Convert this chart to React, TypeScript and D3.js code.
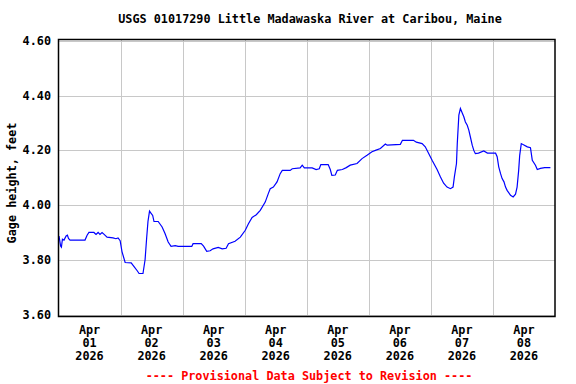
import React, { useRef, useEffect } from 'react';
import * as d3 from 'd3';

// hours since Apr 01 2026 00:00, and gage height in feet
const hours = [
  0.2, 0.81, 1.12, 1.52, 2.13, 2.94, 3.45, 3.86, 4.46, 10.25, 11.06, 11.77, 13.7, 14.51, 15.32, 16.03, 16.84, 17.65, 18.77, 21.1,
  22.22, 23.03, 23.84, 24.55, 25.77, 28.1, 29.22, 30.44, 31.15, 32.67, 33.48, 34.09, 34.6, 35.2, 35.81, 36.42, 36.93, 38.55, 40.07, 41.19,
  42.41, 43.52, 45.15, 46.26, 51.54, 52.04, 55.19, 56.1, 57.32, 58.64, 59.76, 61.78, 63.31, 64.83, 65.74, 68.28, 70.31, 72.23, 73.45, 74.87,
  76.49, 78.02, 79.94, 81.16, 81.87, 83.09, 84.51, 85.73, 86.54, 89.58, 90.39, 93.44, 94.25, 95.06, 98.1, 99.63, 100.84, 101.45, 104.29, 105.1,
  105.71, 107.03, 107.84, 109.77, 111.29, 112.81, 115.45, 117.38, 119.31, 121.23, 122.55, 124.48, 126.41, 127.12, 132.19, 133.0, 137.26, 138.38, 140.61, 141.83,
  143.15, 144.47, 146.4, 147.71, 148.93, 150.25, 151.57, 152.58, 153.09, 153.9, 154.21, 154.82, 155.42, 156.13, 156.74, 157.35, 158.06, 158.67, 159.28, 159.99,
  160.6, 161.21, 162.42, 164.45, 165.87, 169.02, 169.63, 170.24, 170.95, 171.55, 172.27, 172.87, 173.48, 174.8, 175.82, 176.73, 177.34, 177.95, 178.35, 178.96,
  179.97, 181.29, 182.51, 183.22, 184.44, 185.15, 186.37, 187.99, 190.22,
];
const gage = [
  3.887, 3.85, 3.846, 3.875, 3.872, 3.887, 3.89, 3.878, 3.872, 3.872, 3.89, 3.9, 3.9, 3.893, 3.9, 3.893, 3.9, 3.893, 3.883, 3.88,
  3.877, 3.88, 3.87, 3.83, 3.79, 3.789, 3.775, 3.76, 3.75, 3.75, 3.8, 3.88, 3.94, 3.978, 3.97, 3.962, 3.94, 3.94, 3.92, 3.896,
  3.865, 3.849, 3.852, 3.849, 3.849, 3.859, 3.859, 3.85, 3.831, 3.833, 3.84, 3.845, 3.84, 3.842, 3.859, 3.868, 3.883, 3.908, 3.932, 3.955,
  3.965, 3.981, 4.011, 4.043, 4.06, 4.066, 4.085, 4.115, 4.127, 4.127, 4.133, 4.136, 4.146, 4.136, 4.136, 4.13, 4.133, 4.148, 4.148, 4.13,
  4.109, 4.11, 4.127, 4.13, 4.137, 4.146, 4.152, 4.17, 4.182, 4.195, 4.2, 4.207, 4.223, 4.219, 4.222, 4.237, 4.237, 4.23, 4.225, 4.213,
  4.189, 4.164, 4.13, 4.103, 4.08, 4.066, 4.06, 4.066, 4.103, 4.152, 4.225, 4.329, 4.353, 4.337, 4.323, 4.304, 4.292, 4.274, 4.249, 4.219,
  4.2, 4.188, 4.19, 4.198, 4.19, 4.19, 4.177, 4.14, 4.115, 4.097, 4.085, 4.066, 4.054, 4.036, 4.03, 4.04, 4.066, 4.127, 4.182, 4.225,
  4.22, 4.213, 4.21, 4.164, 4.146, 4.13, 4.134, 4.137, 4.137,
];

const yTicks = [3.6, 3.8, 4.0, 4.2, 4.4, 4.6];
const dayLabels = ['01', '02', '03', '04', '05', '06', '07', '08'];
const monthLabel = 'Apr';
const yearLabel = '2026';
const title = 'USGS 01017290 Little Madawaska River at Caribou, Maine';
const yTitle = 'Gage height, feet';
const footer = '---- Provisional Data Subject to Revision ----';

const W = 576;
const H = 384;
const FONT = '"DejaVu Sans Mono", monospace';

export default function App() {
  const svgRef = useRef<SVGSVGElement>(null);

  useEffect(() => {
    const svg = d3.select(svgRef.current);
    svg.selectAll('*').remove();

    const left = 58.5, right = 555, top = 39.5, bottom = 316.5;

    const x = d3.scaleLinear().domain([0, 192]).range([left, right]);
    const y = d3.scaleLinear().domain([3.6, 4.6]).range([314.5, 41]);

    svg.append('rect').attr('width', W).attr('height', H).attr('fill', '#fff');

    // grid
    svg.selectAll('.hgrid')
      .data(yTicks)
      .enter()
      .append('line')
      .attr('class', 'hgrid')
      .attr('x1', left).attr('x2', right)
      .attr('y1', d => Math.round(y(d)) + 0.5)
      .attr('y2', d => Math.round(y(d)) + 0.5)
      .attr('stroke', '#c8c8c8');

    const dayEdges = d3.range(1, dayLabels.length).map(d => d * 24);
    svg.selectAll('.vgrid')
      .data(dayEdges)
      .enter()
      .append('line')
      .attr('class', 'vgrid')
      .attr('x1', d => Math.round(x(d)) + 0.5)
      .attr('x2', d => Math.round(x(d)) + 0.5)
      .attr('y1', top).attr('y2', bottom)
      .attr('stroke', '#c8c8c8');

    // data line
    const pts: [number, number][] = hours.map((h, i) => [h, gage[i]]);
    const line = d3.line<[number, number]>()
      .x(d => x(d[0]))
      .y(d => y(d[1]));
    svg.append('path')
      .datum(pts)
      .attr('d', line)
      .attr('fill', 'none')
      .attr('stroke', '#0000ff')
      .attr('stroke-width', 1.2);

    // frame
    svg.append('rect')
      .attr('x', left).attr('y', top)
      .attr('width', right - left).attr('height', bottom - top)
      .attr('fill', 'none')
      .attr('stroke', '#000')
      .attr('stroke-width', 1.5);

    const txt = (sel: any) => sel
      .attr('font-family', FONT)
      .attr('font-weight', 'bold')
      .attr('font-size', 11.8)
      .attr('fill', '#000');

    // title
    svg.append('text')
      .call(txt)
      .attr('x', 310).attr('y', 23)
      .attr('text-anchor', 'middle')
      .text(title);

    // y tick labels
    svg.selectAll('.ylab')
      .data(yTicks)
      .enter()
      .append('text')
      .call(txt)
      .attr('class', 'ylab')
      .attr('x', 51)
      .attr('y', d => y(d) + 4)
      .attr('text-anchor', 'end')
      .text(d => d.toFixed(2));

    // y title
    svg.append('text')
      .call(txt)
      .attr('transform', 'translate(16,183) rotate(-90)')
      .attr('text-anchor', 'middle')
      .text(yTitle);

    // x labels, centred on noon of each day
    dayLabels.forEach((d, i) => {
      const cx = x(i * 24 + 12);
      [monthLabel, d, yearLabel].forEach((s, j) => {
        svg.append('text')
          .call(txt)
          .attr('x', cx)
          .attr('y', 334 + j * 13)
          .attr('text-anchor', 'middle')
          .text(s);
      });
    });

    // footer
    svg.append('text')
      .call(txt)
      .attr('fill', '#ff0000')
      .attr('x', 309).attr('y', 380)
      .attr('text-anchor', 'middle')
      .text(footer);
  }, []);

  return (
    <svg ref={svgRef} width={W} height={H}
      style={{ position: 'absolute', left: 0, top: 0, display: 'block' }} />
  );
}
